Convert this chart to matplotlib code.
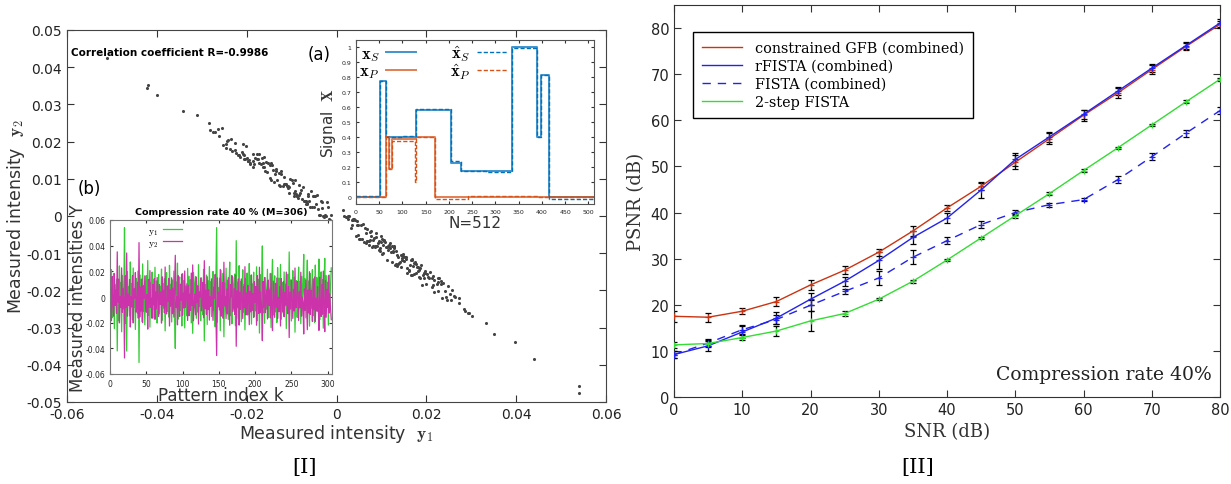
import matplotlib
matplotlib.use("Agg")
import matplotlib.pyplot as plt
import numpy as np

plt.rcParams["mathtext.fontset"] = "cm"

# ---- panel [I]: measured intensities (units of 1e-3) ----
y1_milli = [
    15.3, -10.7, 21.4, -16.2, 4.8, 18.1, -24.6, 9.5, -6.3, 13.9,
    -42.0, 7.6, -18.4, 24.2, -3.7, 11.3, -27.1, 16.8, -9.2, 2.5,
    54.0, -20.6, 12.3, -42.1, 19.7, -5.4, 8.2, -14.8, 27.3, -2.6,
    10.4, -17.7, 22.6, -8.1, 3.9, -25.3, 14.5, 6.2, -12.8, 20.4,
    -51.0, 17.3, -7.5, 13.6, -19.2, 25.8, -11.4, 4.1, -21.7, 9.3,
    16.6, -4.2, 28.4, -14.3, 7.8, -23.5, 11.1, -1.6, 19.4, -9.8,
    5.7, -16.4, 23.2, -6.9, 12.5, -20.3, 2.8, 17.6, -13.2, 8.4,
    -3.5, 21.8, -18.1, 10.6, -8.7, 14.2, -26.4, 6.6, 18.9, -11.3,
    3.2, -15.6, 24.7, -4.4, 9.9, -19.5, 13.3, -7.8, 20.2, -12.5,
    -40.0, 11.7, -2.3, 26.4, -17.2, 7.4, 15.6, -10.3, 4.7, -22.6,
    18.3, -6.5, 12.9, -24.1, 8.6, 1.4, -14.7, 22.3, -9.6, 16.2,
    -5.8, 13.4, -20.2, 6.7, -28.3, 19.1, 10.5, -3.2, 15.8, -16.6,
    8.9, -11.7, 25.2, -7.3, 2.6, -18.5, 14.9, 5.3, -13.6, 21.5,
    -34.2, 9.6, -4.7, 17.1, -21.4, 12.6, -8.3, 23.7, -1.2, 11.8,
    -15.2, 6.4, 19.9, -10.5, 3.6, -23.2, 16.3, 54.1, -19.6, 7.2,
    -6.6, 14.7, -26.2, 20.8, 4.3, -12.4, 18.6, -31.0, 10.9, -3.8,
    22.5, -9.4, 13.1, -17.5, 6.8, 27.2, -14.5, 1.7, -20.9, 15.5,
    8.1, -5.6, 17.9, -22.4, 43.9, -8.5, 11.6, -16.9, 24.4, -2.1,
    12.2, -19.3, 5.5, 21.2, -11.8, 9.7, -25.6, 14.4, -4.5, 18.7,
    -13.9, 3.4, 26.1, -7.6, 16.9, -21.1, 10.2, -1.9, 19.3, -15.4,
    7.5, -10.8, 23.5, -18.6, 4.5, 13.8, -28.1, 17.4, -6.2, 11.4,
    39.8, -12.3, 8.7, -20.5, 15.1, 2.2, -9.5, 21.6, -16.1, 6.9,
    -4.9, 18.4, -23.8, 12.7, 29.3, -14.1, 5.9, 16.5, -11.6, 9.1,
    -19.8, 22.9, -2.7, 14.6, -8.4, 25.4, -17.3, 3.7, 11.2, -13.5,
    19.5, -6.8, 10.1, -24.5, 7.3, 17.7, -12.9, 35.1, -3.3, 13.2,
    -18.7, 4.6, 20.5, -9.1, 15.4, -27.4, 8.5, 12.8, -15.9, 2.3,
    23.3, -7.1, 11.9, -20.8, 16.1, -2.9, 6.5, 33.2, -10.6, 14.3,
    -16.3, 9.8, 28.7, -5.2, 12.4, -22.7, 18.2, -8.9, 3.5, 21.3,
    -14.6, 10.3, -19.9, 24.9, -1.4, 15.2, -11.1, 7.7, 29.6, -17.8,
    5.1, 19.6, -9.3, 13.5, -24.3, 8.8, 30.1, -13.4, 16.7, -6.4,
    11.5, -21.9, 17.2, -4.9, 9.4, 22.7,
]
y2_milli = [
    -11.1, 7.4, -18.5, 15.9, -5.1, -14.9, 18.4, -6.6, 5.5, -12.7,
    35.2, -4.0, 13.9, -20.2, 0.3, -8.2, 22.7, -11.9, 6.6, -0.9,
    -47.5, 16.5, -8.1, 34.3, -14.9, 2.3, -6.4, 13.6, -23.4, 0.3,
    -7.7, 16.7, -20.2, 6.3, -0.9, 19.1, -11.8, -7.1, 11.5, -16.5,
    42.4, -15.6, 7.8, -10.9, 14.2, -20.0, 8.7, -1.1, 16.5, -7.3,
    -11.8, 2.0, -25.0, 13.6, -8.2, 20.6, -8.2, -0.8, -16.6, 9.8,
    -6.2, 14.3, -17.4, 4.0, -9.4, 15.2, 0.0, -15.2, 9.8, -5.8,
    4.0, -20.3, 15.7, -6.7, 5.4, -12.4, 23.4, -7.3, -13.2, 8.6,
    -3.3, 14.5, -22.6, 5.6, -7.1, 15.0, -13.0, 6.9, -15.7, 8.0,
    32.5, -8.3, 0.1, -21.7, 16.6, -6.5, -15.2, 10.0, -2.5, 17.8,
    -14.4, 3.1, -8.5, 20.3, -8.1, 1.5, 10.3, -18.3, 9.0, -14.6,
    2.3, -10.4, 18.7, -6.8, 25.0, -18.5, -6.5, 2.2, -13.9, 15.5,
    -4.6, 8.5, -21.1, 3.9, -0.1, 14.8, -10.8, -6.1, 11.3, -16.2,
    28.3, -9.3, 5.4, -13.5, 15.8, -9.8, 5.6, -18.0, 0.3, -7.3,
    14.2, -3.1, -18.2, 7.8, -1.1, 17.6, -13.1, -45.6, 14.9, -7.7,
    3.6, -10.1, 21.5, -15.0, -5.4, 11.3, -16.6, 27.1, -7.0, 0.3,
    -16.8, 6.2, -13.2, 15.2, -3.4, -22.0, 9.8, 0.0, 16.7, -11.5,
    -8.1, 6.6, -13.6, 17.0, -38.4, 4.8, -7.8, 14.1, -21.9, 3.7,
    -9.7, 14.1, -2.4, -16.8, 8.1, -8.5, 23.6, -13.8, 3.2, -14.0,
    9.1, -1.2, -21.6, 4.5, -11.6, 17.2, -10.3, 2.5, -15.8, 11.9,
    -4.3, 8.1, -22.0, 16.7, -1.4, -12.8, 23.2, -12.3, 3.9, -9.1,
    -34.0, 12.1, -8.0, 15.2, -12.2, -0.2, 5.4, -17.1, 13.2, -6.6,
    5.4, -16.3, 18.1, -8.4, -26.1, 12.3, -2.1, -15.9, 10.6, -8.1,
    14.8, -16.8, -0.3, -11.4, 8.3, -22.6, 14.3, -0.8, -11.7, 12.1,
    -15.4, 3.3, -6.3, 19.4, -6.7, -13.0, 8.2, -31.6, 3.8, -9.3,
    13.3, -2.3, -16.7, 6.0, -10.9, 22.6, -8.3, -8.1, 12.0, -0.4,
    -18.3, 4.0, -8.5, 19.3, -14.9, -0.1, -4.5, -28.8, 6.3, -10.4,
    13.2, -5.5, -25.5, 5.5, -12.4, 19.7, -13.6, 5.3, -2.3, -19.1,
    14.2, -9.9, 15.6, -18.9, -1.0, -10.9, 8.0, -5.5, -26.0, 15.4,
    -6.1, -15.3, 9.8, -13.4, 20.2, -5.6, -27.0, 12.7, -15.8, 5.9,
    -8.1, 16.5, -12.5, 2.5, -9.2, -17.7,
]
y1 = np.array(y1_milli) * 1e-3
y2 = np.array(y2_milli) * 1e-3
k_index = np.arange(len(y1))

# inset (a): piecewise-constant signals (breakpoints, level on each segment)
xs_edges = [0, 52, 65, 128, 205, 225, 335, 390, 398, 415, 512]
xs_true = [0.0, 0.77, 0.40, 0.58, 0.23, 0.172, 1.0, 0.40, 0.81, 0.0]
xs_est_edges = [0, 52, 65, 100, 128, 205, 225, 280, 335, 390, 398, 415, 512]
xs_est = [0.005, 0.77, 0.40, 0.41, 0.585, 0.24, 0.175, 0.165, 0.995, 0.40, 0.81, -0.01]
xp_edges = [0, 65, 72, 78, 128, 170, 512]
xp_true = [0.0, 0.40, 0.19, 0.385, 0.40, 0.0]
xp_est_edges = [0, 65, 72, 78, 127, 129, 170, 240, 390, 512]
xp_est = [0.0, 0.41, 0.19, 0.375, 0.10, 0.40, -0.01, 0.01, 0.0]

# ---- panel [II]: PSNR vs SNR ----
snr = [0, 5, 10, 15, 20, 25, 30, 35, 40, 45, 50, 55, 60, 65, 70, 75, 80]
psnr_gfb = [17.5, 17.3, 18.6, 20.7, 24.3, 27.5, 31.4, 36.0, 41.0, 45.7, 50.9, 56.0, 61.1, 65.9, 71.0, 76.0, 80.8]
err_gfb = [1.2, 1.0, 0.7, 1.0, 1.0, 0.9, 0.8, 1.0, 0.6, 0.8, 1.5, 1.2, 1.2, 1.0, 0.9, 0.8, 0.8]
psnr_rfista = [9.2, 11.1, 14.1, 17.1, 21.2, 25.1, 29.6, 34.6, 38.8, 44.9, 51.5, 56.4, 61.3, 66.3, 71.3, 76.2, 81.1]
err_rfista = [0.8, 1.2, 1.2, 1.3, 1.3, 1.0, 1.8, 1.5, 1.0, 1.8, 1.5, 1.0, 1.0, 0.9, 0.8, 0.7, 0.8]
psnr_fista = [9.2, 11.7, 14.6, 16.8, 19.9, 22.9, 25.8, 30.3, 33.9, 37.4, 40.0, 41.7, 42.8, 47.1, 52.1, 57.2, 62.1]
err_fista = [0.8, 0.8, 1.0, 1.0, 1.2, 0.6, 1.5, 1.5, 0.8, 0.8, 0.6, 0.4, 0.4, 0.8, 0.8, 0.8, 0.7]
psnr_2step = [11.3, 11.6, 12.9, 14.3, 16.5, 18.1, 21.2, 25.1, 29.7, 34.5, 39.3, 44.1, 49.1, 54.0, 59.0, 64.0, 68.9]
err_2step = [0.7, 0.6, 0.6, 1.0, 2.2, 0.6, 0.2, 0.3, 0.3, 0.3, 0.4, 0.3, 0.3, 0.3, 0.3, 0.3, 0.3]

main_ticks_x = [-0.06, -0.04, -0.02, 0, 0.02, 0.04, 0.06]
main_ticks_y = [0.05, 0.04, 0.03, 0.02, 0.01, 0, -0.01, -0.02, -0.03, -0.04, -0.05]


def fmt(v):
    return f"{v:g}"


def inward(ax, size=4, labelsize=10, color="#333333"):
    ax.tick_params(direction="in", top=True, right=True, length=size,
                   labelsize=labelsize, colors=color, labelcolor="#222222")


fig = plt.figure(figsize=(12.31, 4.85), dpi=100)
W, H = 1231.0, 485.0


def px_axes(x0, x1, ytop, ybot):
    return fig.add_axes([x0 / W, 1 - ybot / H, (x1 - x0) / W, (ybot - ytop) / H])


# ---------------- left main scatter ----------------
ax = px_axes(67, 606, 31, 403)
ax.scatter(y1, y2, s=5, color="#444444", linewidths=0, zorder=3)
ax.set_xlim(-0.06, 0.06)
ax.set_ylim(-0.05, 0.05)
ax.set_xticks(main_ticks_x)
ax.set_xticklabels([fmt(v) for v in main_ticks_x])
ax.set_yticks(main_ticks_y)
ax.set_yticklabels([fmt(v) for v in main_ticks_y])
inward(ax, size=5, labelsize=10)
for s in ax.spines.values():
    s.set_color("#444444")
ax.set_xlabel(r"Measured intensity  $\mathbf{y}_1$", fontsize=12.5, color="#333333", labelpad=1)
ax.set_ylabel(r"Measured intensity  $\mathbf{y}_2$", fontsize=12.5, color="#333333", labelpad=0)
ax.text(0.008, 0.955, "Correlation coefficient R=-0.9986", transform=ax.transAxes,
        fontsize=7.5, fontweight="bold", va="top")
ax.text(0.447, 0.96, "(a)", transform=ax.transAxes, fontsize=12, va="top")
ax.text(0.02, 0.6, "(b)", transform=ax.transAxes, fontsize=12, va="top")

# ---------------- inset (a) ----------------
axa = px_axes(356, 594, 41, 205)


def step(a, edges, vals, **kw):
    a.step(edges, list(vals) + [vals[-1]], where="post", **kw)


step(axa, xs_edges, xs_true, color="#0072BD", lw=1.4, alpha=0.75, label=r"$\mathbf{x}_S$")
step(axa, xp_edges, xp_true, color="#D95319", lw=1.4, alpha=0.75, label=r"$\mathbf{x}_P$")
step(axa, xs_est_edges, xs_est, color="#0072BD", lw=1.0, ls=(0, (3, 1.5)), label=r"$\hat{\mathbf{x}}_S$")
step(axa, xp_est_edges, xp_est, color="#D95319", lw=1.0, ls=(0, (3, 1.5)), label=r"$\hat{\mathbf{x}}_P$")
axa.set_xlim(0, 512)
axa.set_ylim(-0.045, 1.045)
axa.set_xticks(range(0, 501, 50))
axa.set_yticks([0, 0.1, 0.2, 0.3, 0.4, 0.5, 0.6, 0.7, 0.8, 0.9, 1])
axa.set_yticklabels(["0", "0.1", "0.2", "0.3", "0.4", "0.5", "0.6", "0.7", "0.8", "0.9", "1"])
inward(axa, size=2.5, labelsize=4.5)
for s in axa.spines.values():
    s.set_color("#555555")
axa.set_xlabel("N=512", fontsize=11, color="#333333", labelpad=1)
axa.set_ylabel(r"Signal  $\mathbf{X}$", fontsize=11, color="#333333", labelpad=2)
axa.legend(ncol=2, loc="upper left", frameon=False, fontsize=12, markerfirst=False,
           handlelength=1.8, columnspacing=2.0, labelspacing=-0.1, borderaxespad=0.0,
           handletextpad=0.4, borderpad=0.2)

# ---------------- inset (b) ----------------
axb = px_axes(110, 332, 221, 375)
axb.plot(k_index, y1, color="#33cc33", lw=0.9, label=r"$\mathrm{y}_1$")
axb.plot(k_index, y2, color="#cc33aa", lw=0.9, label=r"$\mathrm{y}_2$")
axb.set_xlim(0, 306)
axb.set_ylim(-0.06, 0.06)
axb.set_xticks(range(0, 301, 50))
b_yt = [0.06, 0.04, 0.02, 0, -0.02, -0.04, -0.06]
axb.set_yticks(b_yt)
axb.set_yticklabels([fmt(v) for v in b_yt])
inward(axb, size=2.5, labelsize=5.5)
for s in axb.spines.values():
    s.set_color("#777777")
axb.set_title("Compression rate 40 % (M=306)", fontsize=6.8, fontweight="bold", pad=4)
axb.set_xlabel("Pattern index k", fontsize=12, color="#333333", labelpad=-1)
axb.set_ylabel("Measured intensities Y", fontsize=12, color="#333333", labelpad=-1)
axb.legend(loc="upper left", bbox_to_anchor=(0.15, 1.0), frameon=False, fontsize=7,
           markerfirst=False, handlelength=2.0, labelspacing=0.0, borderaxespad=0.1,
           handletextpad=0.4)

# ---------------- right panel ----------------
axr = px_axes(674, 1220, 6, 398)
series = [
    (psnr_gfb, err_gfb, "#cc3311", "-", "constrained GFB (combined)"),
    (psnr_rfista, err_rfista, "#2222ee", "-", "rFISTA (combined)"),
    (psnr_fista, err_fista, "#2222ee", (0, (6, 5)), "FISTA (combined)"),
    (psnr_2step, err_2step, "#33dd33", "-", "2-step FISTA"),
]
for vals, errs, col, ls, lab in series:
    axr.errorbar(snr, vals, yerr=errs, fmt="none", ecolor="black", elinewidth=0.9,
                 capsize=2.5, capthick=0.9, zorder=2)
    axr.plot(snr, vals, color=col, ls=ls, lw=1.0, marker="+", ms=5, mew=0.9,
             label=lab, zorder=3)
axr.set_xlim(0, 80)
axr.set_ylim(0, 85)
axr.set_xticks(range(0, 81, 10))
axr.set_yticks(range(0, 81, 10))
inward(axr, size=5, labelsize=10.5)
for s in axr.spines.values():
    s.set_color("#333333")
axr.set_xlabel("SNR (dB)", family="DejaVu Serif", fontsize=13, color="#333333", labelpad=4)
axr.set_ylabel("PSNR (dB)", family="DejaVu Serif", fontsize=13, color="#333333", labelpad=4)
leg = axr.legend(loc="upper left", bbox_to_anchor=(0.035, 0.931), borderaxespad=0,
                 prop={"family": "DejaVu Serif", "size": 10.4}, fancybox=False,
                 edgecolor="black", framealpha=1, handlelength=2.8, labelspacing=0.28,
                 handletextpad=0.9, borderpad=0.6)
for line in leg.get_lines():
    line.set_marker("")
leg.get_frame().set_linewidth(1.0)
axr.text(0.985, 0.035, "Compression rate 40%", transform=axr.transAxes, ha="right",
         va="bottom", family="DejaVu Serif", fontsize=13.5, color="#222222")

fig.text(305 / W, 1 - 468 / H, "[I]", ha="center", va="center", family="DejaVu Serif", fontsize=15)
fig.text(918 / W, 1 - 468 / H, "[II]", ha="center", va="center", family="DejaVu Serif", fontsize=15)

fig.savefig("out.png", dpi=100)
